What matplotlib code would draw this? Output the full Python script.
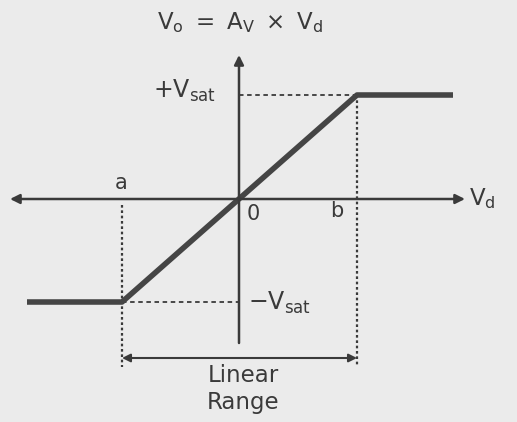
import numpy as np
import matplotlib.pyplot as plt

plt.rcParams.update({
    'font.family': ['DejaVu Sans'],
    'mathtext.default': 'regular',
    'mathtext.fontset': 'dejavusans',
    'font.size': 13,
})

# transfer characteristic: Vd -> Vo (arbitrary units)
vd_pts = [-212, -117, 118, 214]
vo_pts = [-103, -103, 104, 104]
v_sat = 104
a_pos, b_pos = -117, 118

ink = '#3a3a3a'
bg = '#ebebeb'

fig = plt.figure(figsize=(5.17, 4.22), dpi=100, facecolor=bg)
ax = fig.add_axes([0, 0, 1, 1])
ax.set_facecolor(bg)
ax.set_xlim(-239, 278)
ax.set_ylim(-223, 199)
ax.axis('off')

# axes arrows
ax.annotate('', xy=(-229, 0), xytext=(226, 0),
            arrowprops=dict(arrowstyle='<|-|>', color=ink, lw=1.8,
                            mutation_scale=14, shrinkA=0, shrinkB=0))
ax.annotate('', xy=(0, 144), xytext=(0, -144),
            arrowprops=dict(arrowstyle='-|>', color=ink, lw=1.8,
                            mutation_scale=14, shrinkA=0, shrinkB=0))

# guide lines
ax.plot([0, b_pos], [v_sat, v_sat], ls=(0, (2.5, 2)), color=ink, lw=1.3)
ax.plot([a_pos, 0], [vo_pts[0], vo_pts[0]], ls=(0, (2.5, 2)), color=ink, lw=1.3)
ax.plot([b_pos, b_pos], [v_sat, -168], ls=(0, (1.2, 1.2)), color=ink, lw=1.6)
ax.plot([a_pos, a_pos], [-6, -168], ls=(0, (1.2, 1.2)), color=ink, lw=1.6)

# linear range arrow
ax.annotate('', xy=(a_pos, -159), xytext=(b_pos, -159),
            arrowprops=dict(arrowstyle='<|-|>', color=ink, lw=1.5,
                            mutation_scale=12, shrinkA=0, shrinkB=0))

# characteristic curve
ax.plot(vd_pts, vo_pts, color='#454545', lw=4.0, solid_capstyle='butt')

# labels
ax.text(1, 176, r'$V_o\ =\ A_V\ \times\ V_d$', ha='center', va='center',
        fontsize=16.5, color=ink)
ax.text(-23, v_sat + 4, r'$+V_{sat}$', ha='right', va='center', fontsize=17, color=ink)
ax.text(9, -104, r'$-V_{sat}$', ha='left', va='center', fontsize=17, color=ink)
ax.text(230, 0, r'$V_d$', ha='left', va='center', fontsize=16.5, color=ink)
ax.text(a_pos - 1, 16, 'a', ha='center', va='center', fontsize=15, color=ink)
ax.text(b_pos - 20, -12, 'b', ha='center', va='center', fontsize=15, color=ink)
ax.text(14, -15, '0', ha='center', va='center', fontsize=15, color=ink)
ax.text(4, -190, 'Linear\nRange', ha='center', va='center', fontsize=16.5,
        color=ink, linespacing=1.25)

fig.savefig('out.png', dpi=100, facecolor=fig.get_facecolor())
